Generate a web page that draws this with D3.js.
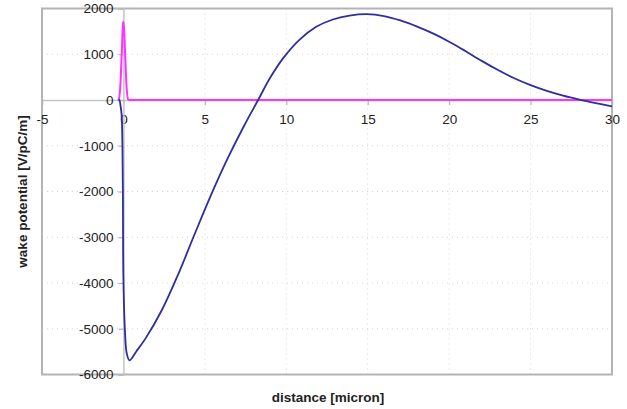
<!DOCTYPE html>
<html>
<head>
<meta charset="utf-8">
<script src="https://cdn.jsdelivr.net/npm/d3@7"></script>
<style>
  body { margin: 0; background: #fff; }
  text { font-family: "Liberation Sans", Arial, sans-serif; fill: #222; }
</style>
</head>
<body>
<div id="chart"></div>
<script>
// chart size
var svgWidth = 627;
var svgHeight = 409;

// plot area edges in pixels
var plot = { left: 42, right: 612, top: 8.5, bottom: 374.5 };

// tick values
var xTicks = [-5, 0, 5, 10, 15, 20, 25, 30];
var yTicks = [2000, 1000, 0, -1000, -2000, -3000, -4000, -5000, -6000];

// wake potential (blue)
var wakeX = [-0.3, -0.25, -0.18, -0.11, -0.04, 0, 0.1, 0.2, 0.37, 0.8, 1.37, 2.37, 3.37, 4.37, 5.37, 6.37,
  7.37, 8.27, 9.0, 9.8, 10.82, 11.84, 12.86, 13.88, 14.95, 16, 17, 18, 19, 20, 21, 22,
  23, 24, 25, 26, 27, 28, 29, 30];
var wakeY = [0, 0, -120, -330, -1750, -3930, -5090, -5530, -5690, -5490, -5205, -4585, -3805, -2935, -2085, -1300,
  -590, 0, 480, 910, 1320, 1600, 1760, 1843, 1875, 1835, 1740, 1610, 1455, 1275, 1070, 855,
  655, 475, 325, 200, 95, 8, -68, -138];

// bunch (magenta)
var bunchX = [-0.35, -0.3, -0.2, -0.1, -0.03, 0, 0.05, 0.1, 0.2, 0.3, 0.4, 30];
var bunchY = [0, 10, 250, 1050, 1650, 1710, 1500, 1050, 250, 10, 0, 0];

var svg = d3.select("#chart")
  .append("svg")
  .attr("width", svgWidth)
  .attr("height", svgHeight);

var xScale = d3.scaleLinear().domain([-5, 30]).range([plot.left, plot.right]);
var yScale = d3.scaleLinear().domain([-6000, 2000]).range([plot.bottom, plot.top]);

// dotted grid lines
svg.append("g")
  .selectAll("line")
  .data(yTicks.filter(d => d != 0 && d != 2000 && d != -6000))
  .enter()
  .append("line")
  .attr("x1", plot.left).attr("x2", plot.right)
  .attr("y1", d => yScale(d)).attr("y2", d => yScale(d))
  .attr("stroke", "#d4d4d4")
  .attr("stroke-dasharray", "1,4");

svg.append("g")
  .selectAll("line")
  .data(xTicks.filter(d => d != 0 && d != -5 && d != 30))
  .enter()
  .append("line")
  .attr("x1", d => xScale(d)).attr("x2", d => xScale(d))
  .attr("y1", plot.top).attr("y2", plot.bottom)
  .attr("stroke", "#d4d4d4")
  .attr("stroke-dasharray", "1,4");

// plot area border
svg.append("rect")
  .attr("x", plot.left)
  .attr("y", plot.top)
  .attr("width", plot.right - plot.left)
  .attr("height", plot.bottom - plot.top)
  .attr("fill", "none")
  .attr("stroke", "#b4b4b4")
  .attr("stroke-width", 2);

// axes cross at zero, plain hyphen minus in labels
var bottomAxis = d3.axisBottom(xScale).tickValues(xTicks).tickSize(5).tickPadding(9)
  .tickFormat(d => String(d));
var leftAxis = d3.axisLeft(yScale).tickValues(yTicks).tickSize(5).tickPadding(5)
  .tickFormat(d => String(d));

var xAxisG = svg.append("g")
  .attr("transform", `translate(0, ${yScale(0)})`)
  .call(bottomAxis);
var yAxisG = svg.append("g")
  .attr("transform", `translate(${xScale(0)}, 0)`)
  .call(leftAxis);

[xAxisG, yAxisG].forEach(function (g) {
  g.select(".domain").attr("stroke", "#c4c4c4").attr("stroke-width", 1.5);
  g.selectAll(".tick line").attr("stroke", "#b4b4b4").attr("stroke-width", 1.2);
  g.selectAll(".tick text")
    .style("font-family", "'Liberation Sans', Arial, sans-serif")
    .style("font-size", "13.5px")
    .attr("fill", "#1a1a1a");
});

// lines
var line = d3.line()
  .x(d => xScale(d[0]))
  .y(d => yScale(d[1]));

svg.append("path")
  .datum(bunchX.map((x, i) => [x, bunchY[i]]))
  .attr("d", line.curve(d3.curveMonotoneX))
  .attr("fill", "none")
  .attr("stroke", "#ff33ff")
  .attr("stroke-width", 2);

svg.append("path")
  .datum(wakeX.map((x, i) => [x, wakeY[i]]))
  .attr("d", line.curve(d3.curveCatmullRom.alpha(0.5)))
  .attr("fill", "none")
  .attr("stroke", "#2e2ea0")
  .attr("stroke-width", 1.8);

// axis titles
svg.append("text")
  .attr("x", (plot.left + plot.right) / 2 + 1)
  .attr("y", 402)
  .attr("text-anchor", "middle")
  .style("font-size", "13.5px")
  .style("font-weight", "bold")
  .text("distance [micron]");

svg.append("text")
  .attr("transform", "rotate(-90)")
  .attr("x", -(plot.top + plot.bottom) / 2)
  .attr("y", 27)
  .attr("text-anchor", "middle")
  .style("font-size", "13.5px")
  .style("font-weight", "bold")
  .text("wake potential [V/pC/m]");
</script>
</body>
</html>
